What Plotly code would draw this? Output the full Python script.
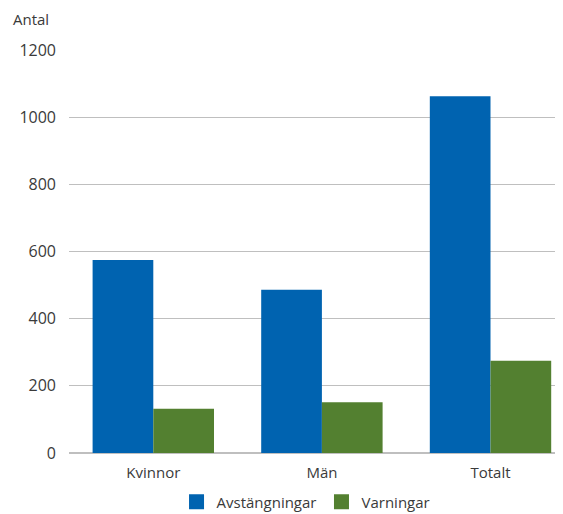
import plotly.graph_objects as go

categories = ["Kvinnor", "Män", "Totalt"]
avstangningar = [575, 486, 1062]
varningar = [132, 151, 275]
series_names = ["Avstängningar", "Varningar"]
series_colors = ["#0063B0", "#538030"]
y_ticks = [0, 200, 400, 600, 800, 1000, 1200]

FONT = "Open Sans"
TXT = "#3A3A3A"

fig = go.Figure()
for name, vals, col in zip(series_names, [avstangningar, varningar], series_colors):
    fig.add_trace(go.Bar(x=categories, y=vals, name=name, showlegend=False,
                         marker=dict(color=col, line=dict(width=0))))
# legend entries with larger square swatches
for name, col in zip(series_names, series_colors):
    fig.add_trace(go.Scatter(x=[None], y=[None], mode="markers", name=name,
                             marker=dict(symbol="square", size=15, color=col)))

# page body has an 8px default margin -> figure is 8px smaller, margins shifted
fig.update_layout(
    width=555, height=506,
    margin=dict(l=61, r=0, t=42, b=61, autoexpand=False),
    plot_bgcolor="white", paper_bgcolor="white",
    font=dict(family=FONT, size=15, color=TXT),
    barmode="group", bargap=0.28, bargroupgap=0,
    showlegend=True,
    legend=dict(orientation="h", x=0.537, xanchor="center", xref="container",
                y=12/506, yanchor="middle", yref="container",
                font=dict(size=15, color=TXT), itemwidth=30, itemsizing="trace"),
    xaxis=dict(range=[-0.5, 2.43], showgrid=False, showline=False,
               tickfont=dict(size=15, color=TXT), ticks="", ticklabelstandoff=9),
    yaxis=dict(range=[0, 1200], tickvals=y_ticks, showgrid=True, gridcolor="#BFBFBF",
               gridwidth=1, zeroline=True, zerolinecolor="#BFBFBF", zerolinewidth=1.5,
               showline=False, ticks="", ticklabelstandoff=12,
               tickfont=dict(size=16, color=TXT)),
)
fig.add_annotation(text="Antal", xref="paper", yref="paper", x=-57/494, y=1 + 31/403,
                   xanchor="left", yanchor="middle", showarrow=False,
                   borderpad=0, font=dict(size=15, color=TXT))

fig.write_html("out.html")
